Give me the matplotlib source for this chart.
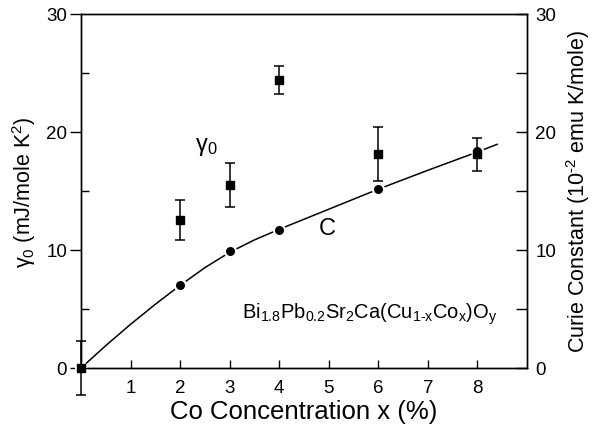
import numpy as np
import matplotlib
matplotlib.use('Agg')
import matplotlib.pyplot as plt

plt.rcParams['font.family'] = ['Liberation Sans', 'DejaVu Sans']
plt.rcParams['mathtext.fontset'] = 'custom'
plt.rcParams['mathtext.rm'] = 'Liberation Sans'
plt.rcParams['mathtext.it'] = 'Liberation Sans'

# gamma_0 (cuadrados con barras de error)
x_gamma = [0, 2, 3, 4, 6, 8]
gamma0 = [0, 12.5, 15.5, 24.4, 18.1, 18.1]
gamma0_err = [2.3, 1.7, 1.9, 1.2, 2.3, 1.4]

# constante de Curie (circulos)
x_curie = [0, 2, 3, 4, 6, 8]
curie = [0, 7.0, 9.9, 11.7, 15.2, 18.4]

# curva del ajuste
x_fit = [0, 0.5, 1, 1.5, 2, 2.5, 3, 3.5, 4, 4.5, 5, 5.5, 6, 7, 8, 8.4]
y_fit = [0, 1.9, 3.7, 5.4, 7.0, 8.5, 9.8, 10.85, 11.75, 12.6, 13.45, 14.3, 15.15, 16.75, 18.3, 18.95]

x_ticks = [1, 2, 3, 4, 5, 6, 7, 8]
y_ticks = [0, 10, 20, 30]
y_minor = [5, 15, 25]

fig = plt.figure(figsize=(5.92, 4.27), dpi=100)
ax = fig.add_axes([0.137, 0.136, 0.753, 0.829])

ax.plot(x_fit, y_fit, color='black', lw=1.1, zorder=2)
ax.plot(x_curie, curie, 'o', color='black', ms=8, mec='white', mew=1.5, zorder=3, clip_on=False)
ax.errorbar(x_gamma, gamma0, yerr=gamma0_err, fmt='s', color='black', ms=6,
            capsize=3.5, elinewidth=1.1, capthick=1.1, zorder=4, clip_on=False)

ax.set_xlim(0, 9)
ax.set_ylim(0, 30)
ax.set_xticks(x_ticks)
ax.set_yticks(y_ticks)
ax.set_yticks(y_minor, minor=True)
ax.tick_params(axis='x', direction='in', length=6, width=1, labelsize=13.5, pad=8)
ax.tick_params(axis='y', which='major', direction='out', length=8, width=1, labelsize=13.5, pad=2)
ax.tick_params(axis='y', which='minor', direction='in', length=6, width=1)

ax.set_xlabel('Co Concentration x (%)', fontsize=18.5, labelpad=2)
ax.set_ylabel(r'$\mathregular{\gamma_0}$ (mJ/mole K$\mathregular{^2}$)', fontsize=15.5, labelpad=6)

ax2 = ax.twinx()
ax2.set_ylim(0, 30)
ax2.set_yticks(y_ticks)
ax2.set_yticks(y_minor, minor=True)
ax2.tick_params(axis='y', which='both', direction='in', length=8, width=1, labelsize=13.5, pad=6)
ax2.set_ylabel(r'Curie Constant (10$\mathregular{^{\text{-}2}}$ emu K/mole)', fontsize=15.5, labelpad=6)

for a in (ax, ax2):
    for s in a.spines.values():
        s.set_linewidth(1)

ax.text(2.3, 18.8, r'$\mathregular{\gamma_0}$', fontsize=17, ha='left', va='center')
ax.text(4.97, 11.9, 'C', fontsize=17, ha='center', va='center')
ax.text(8.4, 4.6, r'Bi$\mathregular{_{1.8}}$Pb$\mathregular{_{0.2}}$Sr$\mathregular{_2}$Ca(Cu$\mathregular{_{1\text{-}x}}$Co$\mathregular{_x}$)O$\mathregular{_y}$',
        fontsize=14.5, ha='right', va='center')

fig.savefig('out.png', dpi=100)
